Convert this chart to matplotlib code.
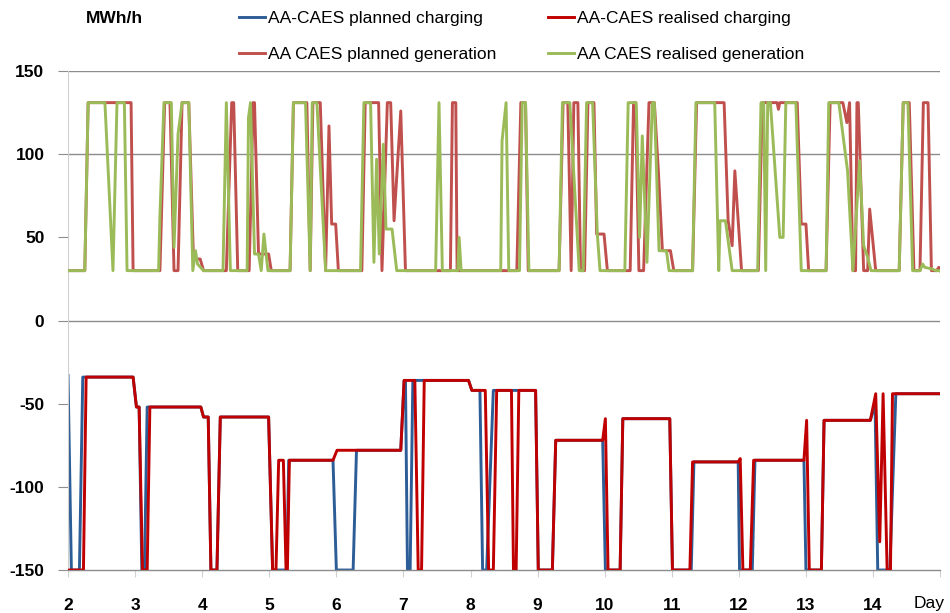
"""AA-CAES planned vs realised charging and generation over two weeks."""

import matplotlib
import matplotlib.pyplot as plt
from matplotlib.lines import Line2D

matplotlib.use("Agg")
plt.rcParams['font.family'] = ['Liberation Sans', 'DejaVu Sans']
plt.rcParams['axes.unicode_minus'] = False

# Planned charging (MWh/h), breakpoints
charge_planned_day = [2.00, 2.05, 2.17, 2.22, 2.97, 3.02, 3.06, 3.10, 3.14, 3.18, 3.98, 4.02, 4.09, 4.13,
                      4.22, 4.27, 4.99, 5.05, 5.26, 5.29, 5.95, 6.00, 6.25, 6.30, 6.96, 7.01, 7.03, 7.06,
                      7.10, 7.14, 7.97, 8.02, 8.14, 8.18, 8.24, 8.34, 8.97, 9.01, 9.22, 9.27, 9.97, 10.01,
                      10.23, 10.27, 10.97, 11.01, 11.29, 11.33, 11.99, 12.01, 12.20, 12.24, 12.97, 13.00,
                      13.23, 13.27, 13.96, 14.03, 14.07, 14.25, 14.34, 15.00]
charge_planned_mw = [-33, -150, -150, -34, -34, -52, -52, -150, -150, -52, -52, -58, -58, -150,
                     -150, -58, -58, -150, -150, -84, -84, -150, -150, -78, -78, -36, -36, -150,
                     -150, -36, -36, -42, -42, -150, -150, -42, -42, -150, -150, -72, -72, -150,
                     -150, -59, -59, -150, -150, -85, -85, -150, -150, -84, -84, -150,
                     -150, -60, -60, -50, -150, -150, -44, -44]

# Realised charging
charge_real_day = [2.00, 2.23, 2.27, 2.97, 3.02, 3.06, 3.11, 3.18, 3.22, 3.98, 4.02, 4.09, 4.13, 4.22,
                   4.27, 4.99, 5.05, 5.10, 5.14, 5.21, 5.25, 5.27, 5.30, 5.95, 6.01, 6.96, 7.01, 7.17,
                   7.22, 7.27, 7.31, 7.97, 8.02, 8.22, 8.27, 8.34, 8.39, 8.61, 8.64, 8.68, 8.72, 8.97,
                   9.01, 9.22, 9.27, 9.97, 10.01, 10.05, 10.23, 10.27, 10.97, 11.01, 11.27, 11.31,
                   11.99, 12.02, 12.06, 12.17, 12.22, 12.97, 13.01, 13.05, 13.23, 13.27, 13.96, 14.04,
                   14.10, 14.15, 14.21, 14.26, 14.29, 15.00]
charge_real_mw = [-150, -150, -34, -34, -52, -52, -150, -150, -52, -52, -58, -58, -150, -150,
                  -58, -58, -150, -150, -84, -84, -150, -150, -84, -84, -78, -78, -36, -36,
                  -150, -150, -36, -36, -42, -42, -150, -150, -42, -42, -150, -150, -42, -42,
                  -150, -150, -72, -72, -59, -150, -150, -59, -59, -150, -150, -85,
                  -85, -83, -150, -150, -84, -84, -60, -150, -150, -60, -60, -44,
                  -133, -44, -150, -150, -44, -44]

# Planned generation
gen_planned_day = [2.00, 2.25, 2.30, 2.94, 2.97, 3.37, 3.44, 3.52, 3.58, 3.64, 3.70, 3.80, 3.87, 3.97,
                   4.02, 4.36, 4.44, 4.47, 4.53, 4.70, 4.76, 4.78, 4.84, 4.99, 5.03, 5.31, 5.36, 5.56,
                   5.61, 5.65, 5.76, 5.84, 5.89, 5.93, 5.99, 6.03, 6.38, 6.43, 6.63, 6.68, 6.76, 6.81,
                   6.86, 6.96, 7.03, 7.70, 7.73, 7.78, 7.80, 8.69, 8.75, 8.82, 8.86, 9.32, 9.38, 9.45,
                   9.50, 9.54, 9.60, 9.64, 9.70, 9.75, 9.84, 9.88, 9.99, 10.04, 10.38, 10.43, 10.46,
                   10.51, 10.58, 10.66, 10.74, 10.80, 10.86, 10.98, 11.03, 11.31, 11.37, 11.78, 11.84,
                   11.90, 11.94, 12.04, 12.29, 12.35, 12.57, 12.59, 12.61, 12.87, 12.93, 13.00, 13.04,
                   13.30, 13.36, 13.55, 13.61, 13.65, 13.70, 13.74, 13.76, 13.78, 13.86, 13.92, 13.95,
                   14.04, 14.39, 14.45, 14.54, 14.61, 14.70, 14.75, 14.82, 14.87, 14.95, 14.98, 15.00]
gen_planned_mw = [30, 30, 131, 131, 30, 30, 131, 131, 30, 30, 131, 131, 37, 37,
                  30, 30, 131, 131, 30, 30, 131, 131, 40, 40, 30, 30, 131, 131,
                  30, 131, 131, 30, 117, 58, 58, 30, 30, 131, 131, 30, 131, 131,
                  60, 126, 30, 30, 131, 131, 30, 30, 131, 131, 30, 30, 131, 131,
                  30, 131, 131, 30, 30, 131, 131, 52, 52, 30, 30, 131, 131,
                  30, 30, 131, 131, 90, 42, 42, 30, 30, 131, 131, 60,
                  45, 90, 30, 30, 131, 131, 127, 131, 131, 58, 58, 30,
                  30, 131, 131, 119, 131, 30, 30, 131, 131, 30, 30, 67,
                  30, 30, 131, 131, 30, 30, 131, 131, 30, 30, 32, 30]

# Realised generation
gen_real_day = [2.00, 2.25, 2.30, 2.55, 2.67, 2.73, 2.84, 2.88, 3.35, 3.37, 3.43, 3.54, 3.58, 3.64,
                3.70, 3.80, 3.86, 3.90, 3.93, 4.02, 4.31, 4.36, 4.42, 4.67, 4.69, 4.72, 4.78, 4.84,
                4.88, 4.92, 4.98, 5.31, 5.36, 5.54, 5.61, 5.64, 5.71, 5.84, 6.36, 6.41, 6.51, 6.56,
                6.60, 6.64, 6.70, 6.74, 6.83, 6.90, 7.48, 7.53, 7.58, 7.81, 7.83, 7.86, 8.45, 8.47,
                8.53, 8.57, 8.73, 8.77, 8.82, 8.87, 9.32, 9.37, 9.48, 9.62, 9.68, 9.73, 9.82, 9.89,
                9.93, 10.30, 10.35, 10.47, 10.52, 10.56, 10.63, 10.71, 10.74, 10.81, 10.92, 10.96,
                11.31, 11.36, 11.64, 11.70, 11.72, 11.80, 11.90, 12.28, 12.33, 12.37, 12.40, 12.43,
                12.47, 12.61, 12.66, 12.70, 12.85, 12.93, 13.30, 13.34, 13.49, 13.62, 13.70, 13.80,
                13.86, 13.92, 13.97, 14.39, 14.45, 14.52, 14.59, 14.70, 14.74, 14.77, 14.88, 14.94,
                15.00]
gen_real_mw = [30, 30, 131, 131, 30, 131, 131, 30, 30, 63, 131, 131, 44, 112,
               131, 131, 30, 42, 34, 30, 30, 131, 30, 30, 122, 131, 40, 40,
               30, 52, 30, 30, 131, 131, 30, 131, 131, 30, 30, 131, 131, 35,
               97, 40, 106, 55, 55, 30, 30, 131, 30, 30, 50, 30, 30, 108,
               131, 30, 30, 131, 131, 30, 30, 131, 131, 30, 30, 131, 131, 52,
               30, 30, 131, 131, 50, 111, 35, 131, 131, 42, 42, 30,
               30, 131, 131, 30, 60, 60, 30, 30, 131, 131, 30, 131,
               131, 50, 50, 131, 131, 30, 30, 131, 131, 90, 30, 96,
               45, 38, 30, 30, 131, 131, 30, 30, 34, 32, 31, 30,
               30]

y_ticks = [-150, -100, -50, 0, 50, 100, 150]
grid_levels = [0, 100, 150]
x_ticks = list(range(2, 16))
x_tick_labels = [str(d) for d in range(2, 15)] + [""]

BLUE = "#2C5D96"
DARK_RED = "#C00000"
RED = "#C0504D"
GREEN = "#9BBB59"
GRID = "#8C8C8C"
AXIS = "#D0D0D0"

fig = plt.figure(figsize=(9.5, 6.13), dpi=100)
ax = fig.add_axes([0.0716, 0.0701, 0.918, 0.814])

for level in grid_levels:
    ax.axhline(level, color=GRID, lw=1.0, zorder=1)

ax.plot(charge_planned_day, charge_planned_mw, color=BLUE, lw=2.1, zorder=2)
ax.plot(charge_real_day, charge_real_mw, color=DARK_RED, lw=2.1, zorder=3)
ax.plot(gen_planned_day, gen_planned_mw, color=RED, lw=2.1, zorder=4)
ax.plot(gen_real_day, gen_real_mw, color=GREEN, lw=2.1, zorder=5)

ax.set_xlim(2, 15)
ax.set_ylim(-150, 150)
ax.set_yticks(y_ticks)
ax.set_xticks(x_ticks)
ax.set_xticklabels(x_tick_labels)

for side in ("top", "right"):
    ax.spines[side].set_visible(False)
ax.spines["left"].set_color(AXIS)
ax.spines["bottom"].set_color(GRID)
ax.spines["bottom"].set_linewidth(1.0)

ax.tick_params(axis="y", length=7, color=GRID, pad=10, labelsize=12.5)
ax.tick_params(axis="x", length=5, color=AXIS, pad=15, labelsize=12.5)
for lbl in ax.get_xticklabels() + ax.get_yticklabels():
    lbl.set_fontweight("bold")

ax.text(14.83, -170, "Day", ha="center", va="center", fontsize=12.5, clip_on=False)
fig.text(0.09, 0.97, "MWh/h", ha="left", va="center", fontsize=12.5, fontweight="bold")

# column-first fill gives rows: charging / generation
handles = [
    Line2D([], [], color=BLUE, lw=2.1),
    Line2D([], [], color=RED, lw=2.1),
    Line2D([], [], color=DARK_RED, lw=2.1),
    Line2D([], [], color=GREEN, lw=2.1),
]
labels = [
    "AA-CAES planned charging",
    "AA CAES planned generation",
    "AA-CAES realised charging",
    "AA CAES realised generation",
]
fig.legend(handles, labels, ncol=2, loc="upper left", bbox_to_anchor=(0.235, 1.007),
           frameon=False, fontsize=12.5, handlelength=1.5, handletextpad=0.15,
           columnspacing=3.0, labelspacing=1.2)

plt.savefig("out.png", dpi=100)
plt.close()
